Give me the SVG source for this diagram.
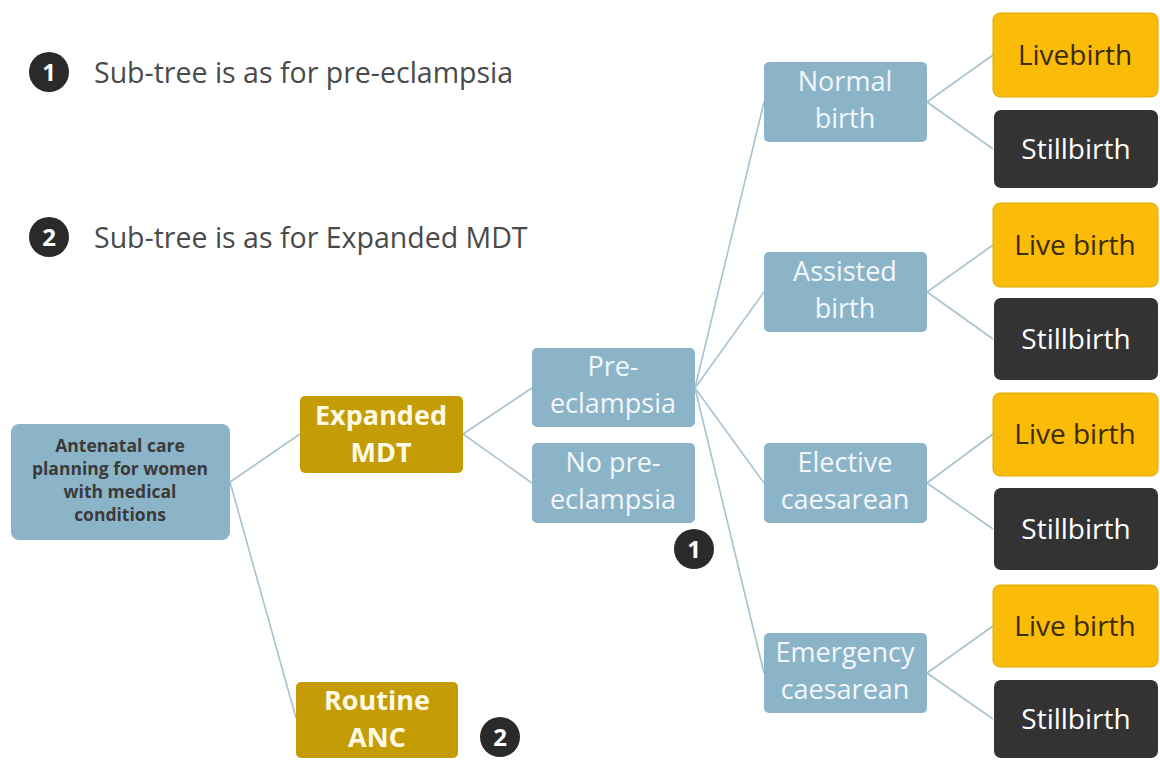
<svg xmlns="http://www.w3.org/2000/svg" width="1160" height="760" viewBox="0 0 1160 760">
<style>
.bg{fill:#ffffff}
.blue{fill:#8cb4c8}
.gold{fill:#c49c06}
.live{fill:#fbbb09;stroke:#e0a800;stroke-width:1}
.still{fill:#333333}
.t{font-family:"Open Sans","Noto Sans",sans-serif;text-anchor:middle}
.tb{font-size:27px;fill:#f2f7fa}
.tg{font-size:27px;font-weight:bold;fill:#fffbe6}
.tl{font-size:28px;fill:#3a2a00}
.ts{font-size:28px;fill:#ffffff}
.tr{font-size:17.5px;font-weight:bold;fill:#3a3a3a}
.leg{font-family:"Open Sans","Noto Sans",sans-serif;font-size:28.5px;fill:#4a4a4a}
.badge{fill:#2a2a2a}
.bn{font-family:"Open Sans","Noto Sans",sans-serif;font-size:24px;font-weight:bold;fill:#ffffff;text-anchor:middle}
.c{stroke:#a9c2cf;stroke-width:1.6;fill:none}
</style>
<rect class="bg" x="0" y="0" width="1160" height="760"/>
<g id="connectors">
<line class="c" x1="230" y1="482" x2="300" y2="434"/>
<line class="c" x1="230" y1="482" x2="296" y2="718"/>
<line class="c" x1="463" y1="434" x2="532" y2="388"/>
<line class="c" x1="463" y1="434" x2="532" y2="483"/>
<line class="c" x1="695" y1="388" x2="764" y2="102"/>
<line class="c" x1="695" y1="388" x2="764" y2="292"/>
<line class="c" x1="695" y1="388" x2="764" y2="483"/>
<line class="c" x1="695" y1="388" x2="764" y2="673"/>
<line class="c" x1="927" y1="102" x2="993" y2="55"/>
<line class="c" x1="927" y1="102" x2="993" y2="149"/>
<line class="c" x1="927" y1="292" x2="993" y2="245"/>
<line class="c" x1="927" y1="292" x2="993" y2="339"/>
<line class="c" x1="927" y1="483" x2="993" y2="434"/>
<line class="c" x1="927" y1="483" x2="993" y2="529"/>
<line class="c" x1="927" y1="673" x2="993" y2="626"/>
<line class="c" x1="927" y1="673" x2="993" y2="719"/>
</g>
<g id="legend1">
<circle class="badge" cx="49" cy="72" r="20"/>
<text class="bn" x="49" y="81">1</text>
<text class="leg" x="94" y="83">Sub-tree is as for pre-eclampsia</text>
</g>
<g id="legend2">
<circle class="badge" cx="49" cy="237" r="20"/>
<text class="bn" x="49" y="246">2</text>
<text class="leg" x="94" y="248">Sub-tree is as for Expanded MDT</text>
</g>
<g id="root">
<rect class="blue" x="11" y="424" width="219" height="116" rx="8"/>
<text class="t tr" x="120" y="452">Antenatal care</text>
<text class="t tr" x="120" y="475">planning for women</text>
<text class="t tr" x="120" y="498">with medical</text>
<text class="t tr" x="120" y="521">conditions</text>
</g>
<g id="expanded-mdt">
<rect class="gold" x="300" y="396" width="163" height="77" rx="5"/>
<text class="t tg" x="381" y="425">Expanded</text>
<text class="t tg" x="381" y="462">MDT</text>
</g>
<g id="routine-anc">
<rect class="gold" x="296" y="682" width="162" height="76" rx="5"/>
<text class="t tg" x="377" y="710">Routine</text>
<text class="t tg" x="377" y="747">ANC</text>
</g>
<g id="badge2">
<circle class="badge" cx="500" cy="737" r="20"/>
<text class="bn" x="500" y="746">2</text>
</g>
<g id="pre-eclampsia">
<rect class="blue" x="532" y="348" width="163" height="79" rx="5"/>
<text class="t tb" x="613" y="376">Pre-</text>
<text class="t tb" x="613" y="413">eclampsia</text>
</g>
<g id="no-pre-eclampsia">
<rect class="blue" x="532" y="443" width="163" height="80" rx="5"/>
<text class="t tb" x="613" y="472">No pre-</text>
<text class="t tb" x="613" y="509">eclampsia</text>
</g>
<g id="badge1">
<circle class="badge" cx="694" cy="549" r="20"/>
<text class="bn" x="694" y="558">1</text>
</g>
<g id="normal-birth">
<rect class="blue" x="764" y="62" width="163" height="80" rx="5"/>
<text class="t tb" x="845" y="91">Normal</text>
<text class="t tb" x="845" y="128">birth</text>
</g>
<g id="assisted-birth">
<rect class="blue" x="764" y="252" width="163" height="80" rx="5"/>
<text class="t tb" x="845" y="281">Assisted</text>
<text class="t tb" x="845" y="318">birth</text>
</g>
<g id="elective-caesarean">
<rect class="blue" x="764" y="443" width="163" height="80" rx="5"/>
<text class="t tb" x="845" y="472">Elective</text>
<text class="t tb" x="845" y="509">caesarean</text>
</g>
<g id="emergency-caesarean">
<rect class="blue" x="764" y="633" width="163" height="80" rx="5"/>
<text class="t tb" x="845" y="662">Emergency</text>
<text class="t tb" x="845" y="699">caesarean</text>
</g>
<g id="live1">
<rect class="live" x="993" y="13" width="165" height="84" rx="7"/>
<text class="t tl" x="1075" y="65">Livebirth</text>
</g>
<g id="still1">
<rect class="still" x="994" y="110" width="164" height="78" rx="7"/>
<text class="t ts" x="1076" y="159">Stillbirth</text>
</g>
<g id="live2">
<rect class="live" x="993" y="203" width="165" height="84" rx="7"/>
<text class="t tl" x="1075" y="255">Live birth</text>
</g>
<g id="still2">
<rect class="still" x="994" y="298" width="164" height="82" rx="7"/>
<text class="t ts" x="1076" y="349">Stillbirth</text>
</g>
<g id="live3">
<rect class="live" x="993" y="393" width="165" height="83" rx="7"/>
<text class="t tl" x="1075" y="444">Live birth</text>
</g>
<g id="still3">
<rect class="still" x="994" y="488" width="164" height="82" rx="7"/>
<text class="t ts" x="1076" y="539">Stillbirth</text>
</g>
<g id="live4">
<rect class="live" x="993" y="585" width="165" height="82" rx="7"/>
<text class="t tl" x="1075" y="636">Live birth</text>
</g>
<g id="still4">
<rect class="still" x="994" y="680" width="164" height="78" rx="7"/>
<text class="t ts" x="1076" y="729">Stillbirth</text>
</g>
</svg>
